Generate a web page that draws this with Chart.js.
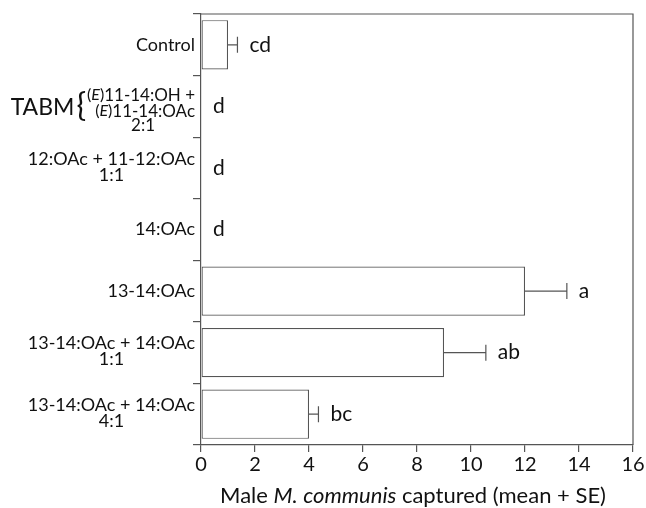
<!DOCTYPE html>
<html>
<head>
<meta charset="utf-8">
<script src="https://cdn.jsdelivr.net/npm/chart.js@4"></script>
<style>
  body { margin: 0; background: #fff; }
  canvas { display: block; }
</style>
</head>
<body>
<canvas id="chart" width="646" height="508"></canvas>
<script>
const categories = ['Control', 'TABM', '12:OAc + 11-12:OAc', '14:OAc', '13-14:OAc', '13-14:OAc + 14:OAc 1:1', '13-14:OAc + 14:OAc 4:1']
const labelLines = [
    ['Control'],
    ['(E)11-14:OH +', '(E)11-14:OAc'],
    ['12:OAc + 11-12:OAc'],
    ['14:OAc'],
    ['13-14:OAc'],
    ['13-14:OAc + 14:OAc'],
    ['13-14:OAc + 14:OAc']
]
const ratios = ['', '2:1', '1:1', '', '', '1:1', '4:1']
const means = [1, 0, 0, 0, 12, 9, 4]
const errors = [0.35, 0, 0, 0, 1.55, 1.55, 0.35]
const letters = ['cd', 'd', 'd', 'd', 'a', 'ab', 'bc']
const xTicks = [0, 2, 4, 6, 8, 10, 12, 14, 16]

const FONT = 'Lato'
const LINE = '#555'
const TEXT = '#111'

/*=============================================
DRAW TEXT WITH (E) ITALIC
=============================================*/

const drawRich = (ctx, text, xRight, y, size) => {
    let small = size - 1
    let parts = text.split(/(\(E\))/).filter(p => p.length)
    let segs = []
    parts.forEach(p => {
        if (p == '(E)') {
            segs.push({t: '(', f: `${small}px ${FONT}`, up: 1})
            segs.push({t: 'E', f: `italic ${small}px ${FONT}`, up: 1})
            segs.push({t: ')', f: `${small}px ${FONT}`, up: 1})
        } else {
            segs.push({t: p, f: `${size}px ${FONT}`, up: 0})
        }
    })
    let total = 0
    segs.forEach(s => { ctx.font = s.f; s.w = ctx.measureText(s.t).width; total += s.w })
    let x = xRight - total
    ctx.textAlign = 'left'
    segs.forEach(s => {
        ctx.font = s.f
        ctx.fillText(s.t, x, y - s.up)
        x += s.w
    })
    return total
}

const labelsPlugin = {
    id: 'labels',
    afterDraw: (chart) => {
        let ctx = chart.ctx
        let yScale = chart.scales.y
        let xScale = chart.scales.x
        let area = chart.chartArea
        ctx.save()
        ctx.fillStyle = TEXT
        ctx.textBaseline = 'middle'

        let xRight = area.left - 6
        labelLines.forEach((lines, i) => {
            let cy = yScale.getPixelForValue(i)
            let size = 18
            if (i == 1) {
                let w = drawRich(ctx, lines[0], xRight, cy - 11, 17)
                drawRich(ctx, lines[1], xRight, cy + 5, 17)
                ctx.font = `17px ${FONT}`
                ctx.textAlign = 'center'
                ctx.fillText(ratios[i], xRight - w / 2 + 2, cy + 19)
                ctx.font = `32px ${FONT}`
                ctx.textAlign = 'right'
                ctx.fillText('{', xRight - w - 1, cy - 1)
                let bw = ctx.measureText('{').width
                ctx.font = `23px ${FONT}`
                ctx.fillText('TABM', xRight - w - 3 - bw, cy + 1)
            } else if (ratios[i]) {
                let w = drawRich(ctx, lines[0], xRight, cy - 9, size)
                ctx.font = `${size}px ${FONT}`
                ctx.textAlign = 'center'
                ctx.fillText(ratios[i], xRight - w / 2, cy + 7)
            } else {
                drawRich(ctx, lines[0], xRight, cy, size)
            }
        })

        // significance letters
        ctx.font = `21px ${FONT}`
        ctx.textAlign = 'left'
        letters.forEach((l, i) => {
            let x = xScale.getPixelForValue(means[i] + errors[i]) + 12
            ctx.fillText(l, x, yScale.getPixelForValue(i))
        })

        // axis title
        let title = [
            {t: 'Male ', f: `22px ${FONT}`},
            {t: 'M.', f: `italic 22px ${FONT}`},
            {t: ' ', f: `22px ${FONT}`},
            {t: 'communis', f: `italic 22px ${FONT}`},
            {t: ' captured (mean + SE)', f: `22px ${FONT}`}
        ]
        let total = 0
        title.forEach(s => { ctx.font = s.f; s.w = ctx.measureText(s.t).width; total += s.w })
        let x = (area.left + area.right) / 2 - total / 2 - 4
        title.forEach(s => { ctx.font = s.f; ctx.fillText(s.t, x, 496); x += s.w })

        // box top and right
        ctx.strokeStyle = LINE
        ctx.lineWidth = 1.2
        ctx.beginPath()
        ctx.moveTo(area.left, area.top)
        ctx.lineTo(area.right, area.top)
        ctx.lineTo(area.right, area.bottom)
        ctx.stroke()
        ctx.restore()
    }
}

const errorBars = {
    id: 'errorBars',
    afterDatasetsDraw: (chart) => {
        let ctx = chart.ctx
        let xScale = chart.scales.x
        let yScale = chart.scales.y
        ctx.save()
        ctx.strokeStyle = LINE
        ctx.lineWidth = 1.2
        means.forEach((m, i) => {
            if (!errors[i]) return
            let x0 = xScale.getPixelForValue(m)
            let x1 = xScale.getPixelForValue(m + errors[i])
            let y = yScale.getPixelForValue(i)
            ctx.beginPath()
            ctx.moveTo(x0, y)
            ctx.lineTo(x1, y)
            ctx.moveTo(x1, y - 8)
            ctx.lineTo(x1, y + 8)
            ctx.stroke()
        })
        ctx.restore()
    }
}

let config = {
    type: 'bar',
    data: {
        labels: categories,
        datasets: [{
            data: means,
            backgroundColor: '#fff',
            borderColor: LINE,
            borderWidth: 1.2,
            borderSkipped: false,
            barPercentage: 0.8,
            categoryPercentage: 1
        }]
    },
    options: {
        indexAxis: 'y',
        responsive: false,
        animation: false,
        layout: { padding: { left: 0, right: 13, top: 14, bottom: 0 } },
        plugins: {
            legend: { display: false },
            tooltip: { enabled: false }
        },
        scales: {
            x: {
                min: 0,
                max: 16,
                afterBuildTicks: s => { s.ticks = xTicks.map(v => ({value: v})) },
                ticks: { font: { family: FONT, size: 20 }, color: TEXT, padding: 1 },
                grid: { drawOnChartArea: false, tickLength: 7, color: LINE, lineWidth: 1.2 },
                border: { color: LINE, width: 1.2 },
                afterFit: s => { s.height = 63 }
            },
            y: {
                ticks: { display: false },
                grid: { drawOnChartArea: false, tickLength: 8, color: LINE, lineWidth: 1.2, offset: true },
                border: { color: LINE, width: 1.2 },
                afterFit: s => { s.width = 201 }
            }
        }
    },
    plugins: [errorBars, labelsPlugin]
}

let ctx = document.getElementById('chart').getContext('2d')
window.myBar = new Chart(ctx, config)
</script>
</body>
</html>
